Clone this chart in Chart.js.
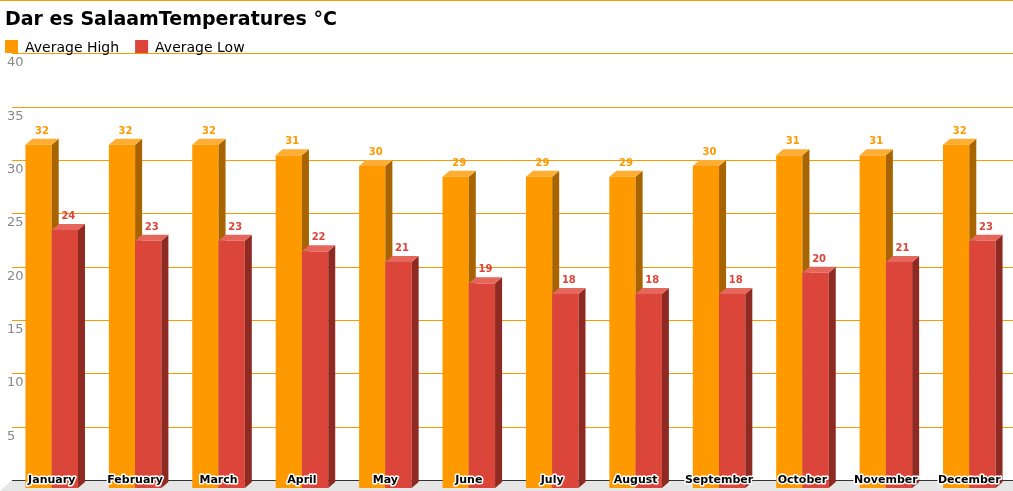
<!DOCTYPE html>
<html><head><meta charset="utf-8">
<script src="https://cdn.jsdelivr.net/npm/chart.js@4/dist/chart.umd.min.js"></script>
<style>html,body{margin:0;padding:0;background:#fff;overflow:hidden}</style>
</head><body>
<canvas id="c" width="1013" height="491"></canvas>
<script>
const months = ["January","February","March","April","May","June","July","August","September","October","November","December"];
const averageHigh = [32,32,32,31,30,29,29,29,30,31,31,32];
const averageLow = [24,23,23,22,21,19,18,18,18,20,21,23];
const yTicks = [5,10,15,20,25,30,35,40];
const titleText = "Dar es SalaamTemperatures °C";
const seriesNames = ["Average High","Average Low"];

const colors = ["#ff9900","#dc4539"];
const tops = ["#ffad33","#e5675c"];
const sides = ["#a86400","#8e2a22"];
const DX = 7, DY = 6, SH = -2;

const plugin = {
  id: 'custom',
  beforeDatasetsDraw(chart) {
    const ctx = chart.ctx, y = chart.scales.y, a = chart.chartArea;
    ctx.save();
    ctx.fillStyle = "#e6e6e6";
    ctx.beginPath();
    ctx.moveTo(a.left, a.bottom); ctx.lineTo(1013, a.bottom);
    ctx.lineTo(1013, 491); ctx.lineTo(0, 491); ctx.closePath(); ctx.fill();
    ctx.fillStyle = "#ff9900";
    [...yTicks, 45].forEach(v => {
      const p = Math.round(y.getPixelForValue(v));
      const x0 = v === 45 ? 0 : a.left;
      ctx.fillRect(x0, Math.max(0, p), 1013 - x0, 1);
    });
    ctx.fillStyle = "#333";
    ctx.fillRect(a.left, a.bottom, 1013 - a.left, 1);
    ctx.fillStyle = "#888"; ctx.font = "13px 'DejaVu Sans'"; ctx.textBaseline = "top"; ctx.textAlign = "left";
    yTicks.forEach(v => ctx.fillText(String(v), 7, y.getPixelForValue(v) + 3));
    ctx.restore();
  },
  afterDatasetsDraw(chart) {
    const ctx = chart.ctx;
    ctx.save();
    chart.data.datasets.forEach((ds, i) => {
      chart.getDatasetMeta(i).data.forEach((bar, j) => {
        const l = bar.x - bar.width / 2 + SH, r = bar.x + bar.width / 2 + SH, t = bar.y + DY, b = bar.base + 8;
        ctx.fillStyle = colors[i]; ctx.fillRect(l, t, r - l, b - t);
        ctx.fillStyle = sides[i];
        ctx.beginPath(); ctx.moveTo(r, t); ctx.lineTo(r + DX, t - DY); ctx.lineTo(r + DX, b - DY); ctx.lineTo(r, b); ctx.closePath(); ctx.fill();
        ctx.fillStyle = tops[i];
        ctx.beginPath(); ctx.moveTo(l, t); ctx.lineTo(l + DX, t - DY); ctx.lineTo(r + DX, t - DY); ctx.lineTo(r, t); ctx.closePath(); ctx.fill();
        ctx.fillStyle = colors[i];
        ctx.font = "bold 10px 'DejaVu Sans'"; ctx.textAlign = "center"; ctx.textBaseline = "alphabetic";
        ctx.fillText(String(ds.data[j]), (l + r) / 2 + DX / 2, t - DY - 5);
      });
    });
    const x = chart.scales.x;
    ctx.font = "bold 11px 'DejaVu Sans'"; ctx.textAlign = "center"; ctx.textBaseline = "alphabetic";
    ctx.lineJoin = "round";
    months.forEach((m, j) => {
      const px = x.getPixelForValue(j) - 2, py = 483;
      ctx.strokeStyle = "#fff"; ctx.lineWidth = 3; ctx.strokeText(m, px, py);
      ctx.fillStyle = "#000"; ctx.fillText(m, px, py);
    });
    ctx.textAlign = "left";
    ctx.fillStyle = "#000"; ctx.font = "bold 19px 'DejaVu Sans'";
    ctx.fillText(titleText, 5, 25);
    ctx.font = "14px 'DejaVu Sans'";
    let lx = 5;
    seriesNames.forEach((n, i) => {
      ctx.fillStyle = colors[i]; ctx.fillRect(lx, 40, 13, 13);
      ctx.fillStyle = "#000"; ctx.fillText(n, lx + 20, 52);
      lx += 20 + ctx.measureText(n).width + 16;
    });
    ctx.restore();
  }
};

new Chart(document.getElementById('c'), {
  type: 'bar',
  data: {
    labels: months,
    datasets: [
      { label: seriesNames[0], data: averageHigh, backgroundColor: 'rgba(0,0,0,0)' },
      { label: seriesNames[1], data: averageLow, backgroundColor: 'rgba(0,0,0,0)' }
    ]
  },
  options: {
    responsive: false, animation: false,
    layout: { padding: { left: 12, top: 0, right: 0, bottom: 11 } },
    datasets: { bar: { barPercentage: 1, categoryPercentage: 0.63 } },
    plugins: { legend: { display: false }, title: { display: false }, tooltip: { enabled: false } },
    scales: {
      x: { display: false },
      y: { display: false, min: 0, max: 45 }
    }
  },
  plugins: [plugin]
});
</script>
</body></html>
